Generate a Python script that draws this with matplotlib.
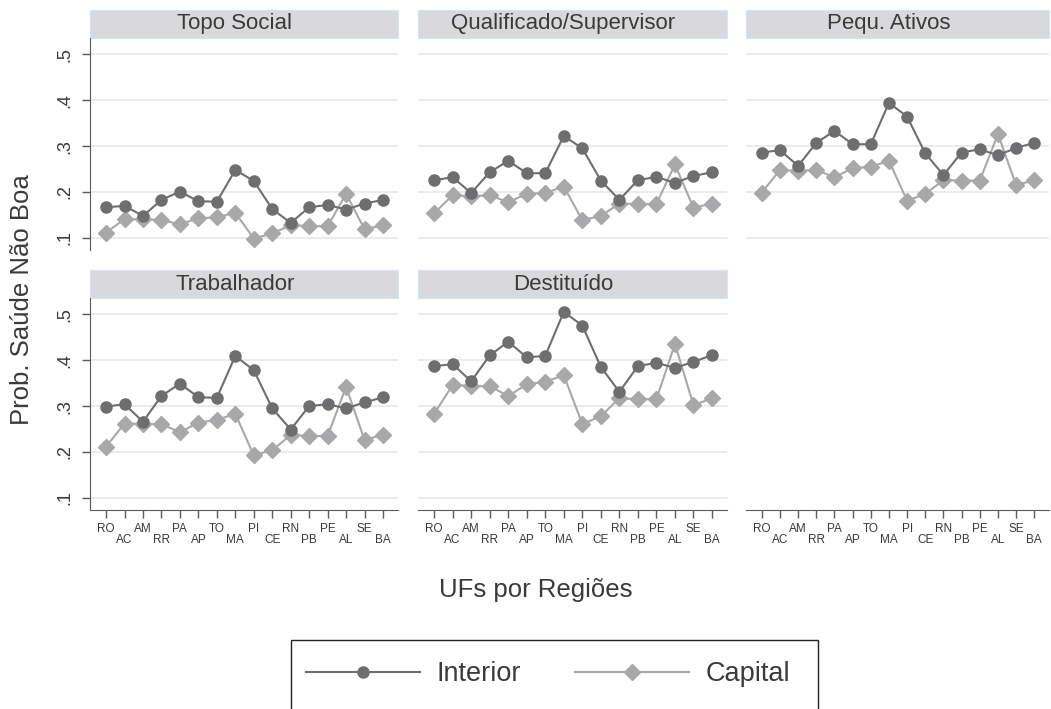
import numpy as np
import matplotlib
matplotlib.use('Agg')
import matplotlib.pyplot as plt
from matplotlib.patches import Rectangle
from matplotlib.lines import Line2D

plt.rcParams['font.family'] = 'Liberation Sans'

# ### Data: states (UFs) in region order, and predicted probabilities
ufs = ['RO', 'AC', 'AM', 'RR', 'PA', 'AP', 'TO', 'MA',
       'PI', 'CE', 'RN', 'PB', 'PE', 'AL', 'SE', 'BA']
panels = ['Topo Social', 'Qualificado/Supervisor', 'Pequ. Ativos',
          'Trabalhador', 'Destituído']

interior_topo = [0.167, 0.170, 0.148, 0.183, 0.201, 0.180, 0.179, 0.248,
                 0.224, 0.163, 0.133, 0.167, 0.172, 0.162, 0.175, 0.183]
capital_topo = [0.112, 0.141, 0.141, 0.139, 0.130, 0.143, 0.145, 0.155,
                0.099, 0.110, 0.128, 0.126, 0.126, 0.196, 0.119, 0.128]

interior_qual = [0.226, 0.232, 0.198, 0.243, 0.268, 0.241, 0.241, 0.322,
                 0.295, 0.225, 0.183, 0.226, 0.233, 0.220, 0.235, 0.243]
capital_qual = [0.154, 0.193, 0.191, 0.193, 0.178, 0.196, 0.198, 0.212,
                0.139, 0.148, 0.175, 0.174, 0.174, 0.260, 0.166, 0.175]

interior_pequ = [0.286, 0.291, 0.257, 0.307, 0.333, 0.304, 0.304, 0.394,
                 0.364, 0.284, 0.237, 0.286, 0.293, 0.280, 0.296, 0.307]
capital_pequ = [0.199, 0.248, 0.246, 0.248, 0.232, 0.252, 0.255, 0.268,
                0.181, 0.196, 0.226, 0.225, 0.225, 0.326, 0.215, 0.226]

interior_trab = [0.299, 0.304, 0.266, 0.322, 0.349, 0.319, 0.318, 0.409,
                 0.378, 0.295, 0.249, 0.300, 0.304, 0.295, 0.308, 0.319]
capital_trab = [0.212, 0.262, 0.261, 0.261, 0.243, 0.264, 0.270, 0.283,
                0.193, 0.204, 0.237, 0.235, 0.235, 0.342, 0.226, 0.238]

interior_dest = [0.387, 0.391, 0.354, 0.410, 0.440, 0.406, 0.409, 0.505,
                 0.475, 0.385, 0.331, 0.387, 0.394, 0.383, 0.396, 0.411]
capital_dest = [0.283, 0.346, 0.344, 0.343, 0.322, 0.347, 0.353, 0.367,
                0.261, 0.278, 0.317, 0.315, 0.315, 0.435, 0.302, 0.317]

interior = [interior_topo, interior_qual, interior_pequ, interior_trab, interior_dest]
capital = [capital_topo, capital_qual, capital_pequ, capital_trab, capital_dest]

yticks = [0.1, 0.2, 0.3, 0.4, 0.5]
ytick_labels = ['.1', '.2', '.3', '.4', '.5']

# ### Plotting parameters
W, H = 1051, 709
col_x = [(90, 398), (418, 727), (746, 1049)]
row_y = [(38, 250), (298, 510)]
header_h = 28
c_int = '#6e6e71'
c_cap = '#a8a8aa'
c_text = '#3a3a3a'
c_axis = '#5a5a5a'
xlim = (-0.87, 15.81)
ylim = (0.074, 0.535)
ms_o, ms_d = 8, 8.5

fig = plt.figure(figsize=(W / 100, H / 100), dpi=100)


def make_axes(col, row):
    x0, x1 = col_x[col]
    y0, y1 = row_y[row]
    return fig.add_axes([x0 / W, 1 - y1 / H, (x1 - x0) / W, (y1 - y0) / H])


xs = np.arange(len(ufs))
xlabels = [u if i % 2 == 0 else '\n' + u for i, u in enumerate(ufs)]

for k, name in enumerate(panels):
    col, row = k % 3, k // 3
    ax = make_axes(col, row)
    ax.set_xlim(*xlim)
    ax.set_ylim(*ylim)
    for y in yticks:
        ax.axhline(y, color='#e8e8e8', linewidth=1.2, zorder=0)
    ax.plot(xs, interior[k], color=c_int, linewidth=1.5, marker='o',
            markersize=ms_o, zorder=3)
    ax.plot(xs, capital[k], color=c_cap, linewidth=1.5, marker='D',
            markersize=ms_d, zorder=2)
    for s in ['top', 'right']:
        ax.spines[s].set_visible(False)
    # header strip
    hfrac = header_h / (row_y[row][1] - row_y[row][0])
    ax.add_patch(Rectangle((0, 1), 1, hfrac, transform=ax.transAxes, clip_on=False,
                           facecolor='#d9d9db', edgecolor='#d6e6ee', linewidth=0.8))
    ax.text(0.47, 1 + hfrac / 2, name, transform=ax.transAxes, ha='center',
            va='center', fontsize=16, color=c_text)

    # y axis only on first column
    if col == 0:
        ax.spines['left'].set_color(c_axis)
        ax.set_yticks(yticks)
        ax.set_yticklabels(ytick_labels, rotation=90, va='center',
                           fontsize=13, color=c_text)
        ax.tick_params(axis='y', length=6, width=1, color=c_axis, pad=6)
    else:
        ax.spines['left'].set_visible(False)
        ax.set_yticks([])

    # x axis only on bottom row
    if row == 1:
        ax.spines['bottom'].set_color(c_axis)
        ax.set_xticks(xs)
        ax.set_xticklabels(xlabels, fontsize=8.5, color=c_text, linespacing=0.95)
        ax.tick_params(axis='x', length=6, width=1, color=c_axis, pad=3)
    else:
        ax.spines['bottom'].set_visible(False)
        ax.set_xticks([])

# x axis for the third column, drawn at the bottom of the grid
axx = make_axes(2, 1)
axx.set_xlim(*xlim)
axx.set_ylim(*ylim)
for s in ['top', 'right', 'left']:
    axx.spines[s].set_visible(False)
axx.spines['bottom'].set_color(c_axis)
axx.set_yticks([])
axx.set_xticks(xs)
axx.set_xticklabels(xlabels, fontsize=8.5, color=c_text, linespacing=0.95)
axx.tick_params(axis='x', length=6, width=1, color=c_axis, pad=3)

# common axis titles
fig.text(22 / W, 1 - 300 / H, 'Prob. Saúde Não Boa', rotation=90,
         ha='center', va='center', fontsize=18.5, color=c_text)
fig.text(536 / W, 1 - 590 / H, 'UFs por Regiões', ha='center', va='center',
         fontsize=18.5, color=c_text)

# legend: frame drawn separately so the box matches the original size
fig.add_artist(Rectangle((291 / W, 1 - 712 / H), 527 / W, 72 / H,
                         transform=fig.transFigure, facecolor='none',
                         edgecolor='#222222', linewidth=1.0))
handles = [Line2D([], [], color=c_int, linewidth=1.5, marker='o', markersize=ms_o),
           Line2D([], [], color=c_cap, linewidth=1.5, marker='D', markersize=ms_d)]
leg = fig.legend(handles, ['Interior', 'Capital'], ncol=2, loc='center left',
                 bbox_to_anchor=(306 / W, 1 - 674 / H), borderpad=0,
                 borderaxespad=0, fontsize=19.5, handlelength=4.2,
                 handletextpad=0.62, columnspacing=2.0, frameon=False,
                 labelcolor=c_text)

fig.savefig('out.png', dpi=100)
